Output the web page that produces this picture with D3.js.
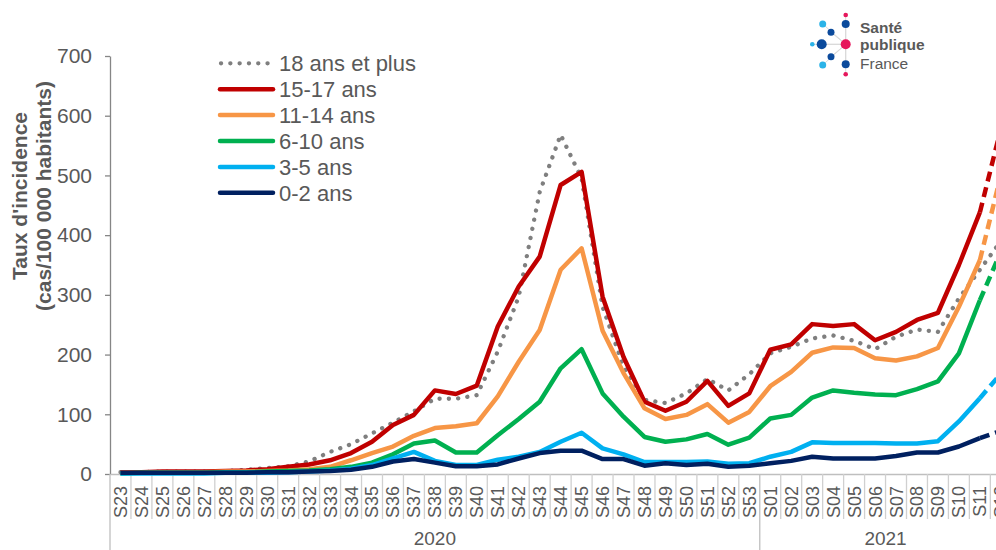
<!DOCTYPE html>
<html>
<head>
<meta charset="utf-8">
<script src="https://cdn.jsdelivr.net/npm/d3@7"></script>
<style>
  body { margin: 0; overflow: hidden; background: #fff; }
  text { font-family: "Liberation Sans", Arial, sans-serif; fill: #595959; }
</style>
</head>
<body>
<div id="chart"></div>
<script>
// Weeks (x categories)
const weeks2020 = ["S23","S24","S25","S26","S27","S28","S29","S30","S31","S32","S33","S34","S35","S36","S37","S38",
  "S39","S40","S41","S42","S43","S44","S45","S46","S47","S48","S49","S50","S51","S52","S53"];
const weeks2021 = ["S01","S02","S03","S04","S05","S06","S07","S08","S09","S10","S11","S12"];
const years = ["2020", "2021"];
const weeks = weeks2020.concat(weeks2021);

// Series names / colours
const seriesNames = ["18 ans et plus", "15-17 ans", "11-14 ans", "6-10 ans", "3-5 ans", "0-2 ans"];
const seriesColors = ["#7f7f7f", "#c00000", "#f79646", "#00b050", "#00b0f0", "#002060"];

// Incidence values (cas/100 000 habitants), S23 2020 -> S12 2021
const adults = [3,3,4,4,4,5,7,10,13,21,37,50,68,86,105,126,126,132,205,297,472,568,495,280,180,124,119,135,159,140,167,
  202,213,227,232,223,209,230,242,238,294,342,390];
const age15to17 = [3,3,4,4,4,5,6,8,12,16,23,35,54,82,99,140,134,148,247,314,364,484,506,297,196,121,106,121,156,114,135,
  208,217,251,248,251,224,238,258,270,350,438,578];
const age11to14 = [2,2,3,3,3,4,4,5,6,8,12,23,35,46,64,77,80,85,130,188,241,342,378,240,169,110,92,99,117,86,104,
  147,171,203,212,211,194,190,197,211,280,358,500];
const age6to10 = [1,2,2,2,2,3,3,4,5,6,8,12,19,33,51,56,36,36,65,92,121,177,209,135,96,62,54,58,67,49,61,
  93,99,128,140,136,133,132,142,155,202,291,372];
const age3to5 = [1,1,1,1,1,2,2,2,3,4,6,9,15,26,37,22,15,15,24,29,37,54,69,43,33,20,20,20,21,17,18,
  29,37,53,52,52,52,51,51,55,88,127,168];
const age0to2 = [2,2,2,2,2,2,2,3,3,4,5,7,12,21,25,19,13,13,16,26,35,39,39,25,25,14,18,15,17,12,14,
  18,22,29,26,26,26,30,36,36,46,60,72];
const yTicks = [0, 100, 200, 300, 400, 500, 600, 700];

const allSeries = [adults, age15to17, age11to14, age6to10, age3to5, age0to2];

// Setup
const width = 996, height = 550;
const svg = d3.select("#chart").append("svg").attr("width", width).attr("height", height);

const x = d3.scaleBand()
  .domain(d3.range(weeks.length))
  .range([110, 1011.3])
  .padding(0);
const y = d3.scaleLinear().domain([0, 700]).range([474, 56]);
const bw = x.bandwidth();
const cx = i => x(i) + bw / 2;

// Y axis
const yAxis = svg.append("g")
  .attr("transform", "translate(110,0)")
  .call(d3.axisLeft(y).tickValues(yTicks).tickSize(5).tickSizeOuter(0).tickPadding(13));
yAxis.select(".domain").attr("stroke", "#868686").attr("stroke-width", 1.3);
yAxis.selectAll(".tick line").attr("stroke", "#868686").attr("stroke-width", 1.3);
yAxis.selectAll(".tick text").style("font-size", "21px").attr("fill", "#595959");

// Y title
const yTitle = svg.append("g").attr("transform", "translate(0,196) rotate(-90)");
yTitle.append("text").attr("x", 0).attr("y", 27).attr("text-anchor", "middle")
  .style("font-size", "21px").style("font-weight", "bold").text("Taux d'incidence");
yTitle.append("text").attr("x", 0).attr("y", 51).attr("text-anchor", "middle")
  .style("font-size", "21px").style("font-weight", "bold").text("(cas/100 000 habitants)");

// X axis
const xAxis = svg.append("g")
  .attr("transform", "translate(0,474)")
  .call(d3.axisBottom(x).tickSize(0).tickSizeOuter(0).tickFormat(i => weeks[i]));
xAxis.select(".domain").attr("stroke", "#bfbfbf").attr("stroke-width", 1.3);
xAxis.selectAll(".tick text")
  .attr("text-anchor", "end")
  .attr("transform", "rotate(-90)")
  .attr("x", -12)
  .attr("y", 0)
  .attr("dy", "0.36em")
  .style("font-size", "18px")
  .attr("fill", "#595959");

// category separators
const yearStarts = [0, weeks2020.length, weeks.length];
const seps = svg.append("g").attr("id", "separators");
d3.range(weeks.length + 1).forEach(i => {
  const xp = x.range()[0] + i * bw;
  const isYear = yearStarts.includes(i);
  seps.append("line")
    .attr("x1", xp).attr("x2", xp)
    .attr("y1", 474).attr("y2", isYear ? 550 : 519)
    .attr("stroke", isYear ? "#bfbfbf" : "#d0d0d0")
    .attr("stroke-width", 1.3);
});

// year labels
const yearSpans = [[0, weeks2020.length], [weeks2020.length, weeks.length]];
years.forEach((yr, k) => {
  const x0 = x.range()[0] + yearSpans[k][0] * bw, x1 = x.range()[0] + yearSpans[k][1] * bw;
  svg.append("text")
    .attr("x", (x0 + x1) / 2)
    .attr("y", 545)
    .attr("text-anchor", "middle")
    .style("font-size", "19px")
    .text(yr);
});

// Lines
const line = d3.line().x(d => cx(d.i)).y(d => y(d.v));
const linesG = svg.append("g").attr("id", "lines");
allSeries.forEach((vals, k) => {
  const pts = vals.map((v, i) => ({ i: i, v: v }));
  if (k === 0) {
    linesG.append("path")
      .attr("d", line(pts))
      .attr("fill", "none")
      .attr("stroke", seriesColors[k])
      .attr("stroke-width", 4.3)
      .attr("stroke-linecap", "round")
      .attr("stroke-dasharray", "0.1 9.2");
  } else {
    linesG.append("path")
      .attr("d", line(pts.slice(0, pts.length - 1)))
      .attr("fill", "none")
      .attr("stroke", seriesColors[k])
      .attr("stroke-width", 4.5)
      .attr("stroke-linejoin", "round");
    linesG.append("path")
      .attr("d", line(pts.slice(pts.length - 2)))
      .attr("fill", "none")
      .attr("stroke", seriesColors[k])
      .attr("stroke-width", 4.5)
      .attr("stroke-dasharray", "10 6");
  }
});

// Legend
const legend = svg.append("g").attr("id", "legend");
seriesNames.forEach((name, k) => {
  const ly = 63.3 + k * 25.9;
  legend.append("line")
    .attr("x1", k === 0 ? 221 : 220).attr("x2", 273)
    .attr("y1", ly).attr("y2", ly)
    .attr("stroke", seriesColors[k])
    .attr("stroke-width", k === 0 ? 4.3 : 4.5)
    .attr("stroke-linecap", "round")
    .attr("stroke-dasharray", k === 0 ? "0.1 9.2" : null);
  legend.append("text")
    .attr("x", 279)
    .attr("y", ly + 8)
    .style("font-size", "22px")
    .text(name);
});

// Logo
const logo = svg.append("g").attr("id", "logo");
const hub = [845.7, 44.3];
const nodes = [
  [845.7, 15, 2.3, "#e6175c"], [845.7, 24, 4, "#0b4a9c"], [822.7, 24, 3.5, "#2bb3e8"],
  [831, 32.3, 3.5, "#0b4a9c"], [812.3, 44.3, 2.3, "#2bb3e8"], [821.7, 44.3, 5, "#0b4a9c"],
  [831, 56.7, 3.5, "#0b4a9c"], [822.7, 65, 3.5, "#2bb3e8"], [845.7, 64.3, 4, "#0b4a9c"],
  [845.7, 74.3, 2.3, "#e6175c"]
];
nodes.forEach(n => {
  logo.append("line").attr("x1", hub[0]).attr("y1", hub[1]).attr("x2", n[0]).attr("y2", n[1])
    .attr("stroke", "#d9d9d9").attr("stroke-width", 1);
});
nodes.forEach(n => {
  logo.append("circle").attr("cx", n[0]).attr("cy", n[1]).attr("r", n[2]).attr("fill", n[3]);
});
logo.append("circle").attr("cx", hub[0]).attr("cy", hub[1]).attr("r", 5).attr("fill", "#e6175c");
logo.append("text").attr("x", 860).attr("y", 33).style("font-size", "15.5px").style("font-weight", "bold")
  .attr("fill", "#58595b").text("Santé");
logo.append("text").attr("x", 860).attr("y", 50).style("font-size", "15.5px").style("font-weight", "bold")
  .attr("fill", "#58595b").text("publique");
logo.append("text").attr("x", 860).attr("y", 69).style("font-size", "15.5px")
  .attr("fill", "#58595b").text("France");
</script>
</body>
</html>
